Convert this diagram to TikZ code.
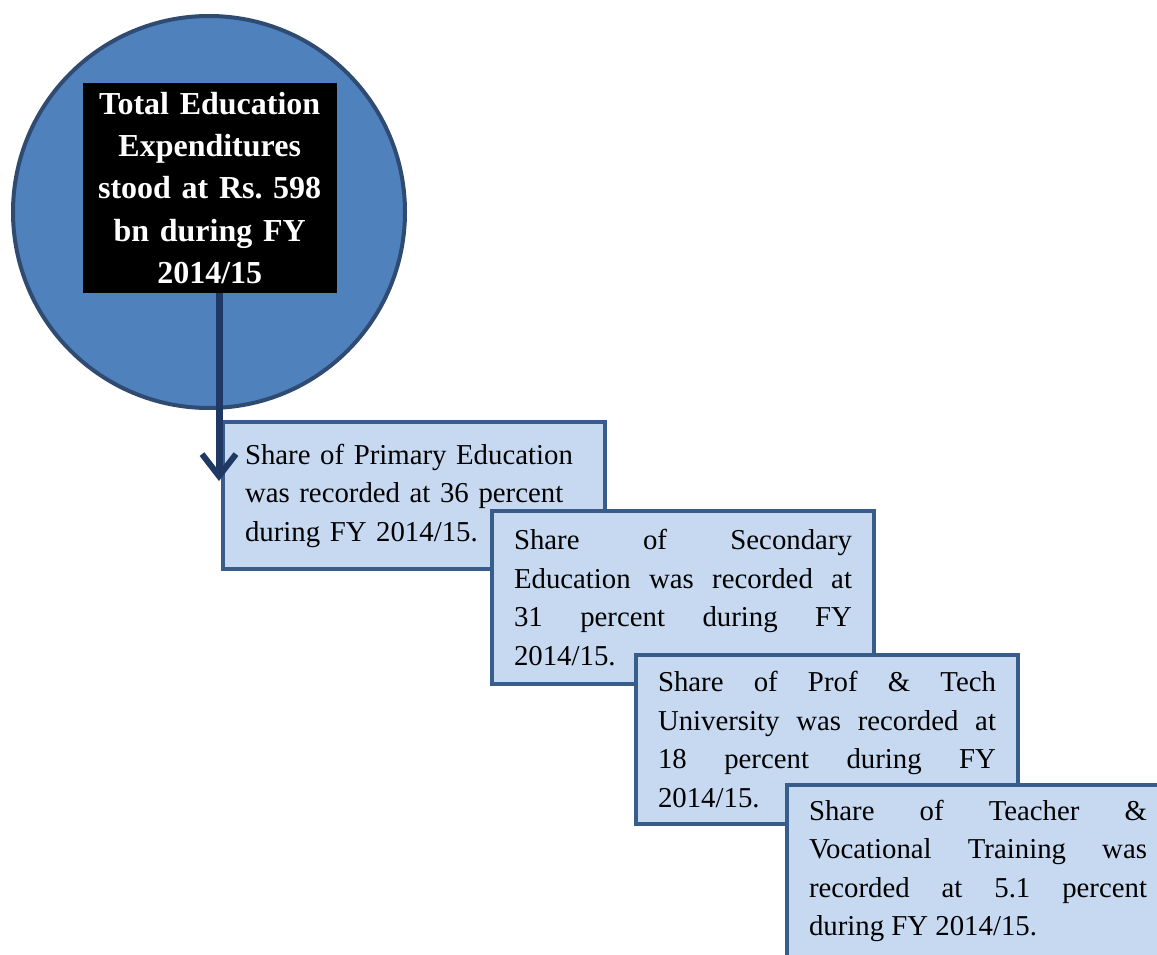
\documentclass[tikz,border=0pt]{standalone}
\usepackage{fontspec}
\setmainfont{Liberation Serif}
\usetikzlibrary{arrows.meta}
\definecolor{hubfill}{HTML}{4F81BD}
\definecolor{hubline}{HTML}{2F4B72}
\definecolor{sharefill}{HTML}{C6D9F1}
\definecolor{shareline}{HTML}{385D8A}
\definecolor{flowline}{HTML}{1F3864}
\hbadness=10000
\frenchspacing
\tikzset{
  hub/.style={circle, draw=hubline, line width=4pt, fill=hubfill, minimum size=392pt, inner sep=0pt},
  total/.style={fill=black, text=white, minimum width=254pt, minimum height=210pt, inner sep=0pt,
    text width=250pt, align=center, font=\fontsize{32}{42.3}\selectfont\bfseries},
  share/.style={draw=shareline, line width=4pt, fill=sharefill, anchor=north west,
    text width=338pt, inner xsep=22pt, inner ysep=0pt, align=justify,
    font=\fontsize{28.8}{38.5}\selectfont},
  flow/.style={draw=flowline, line width=7pt,
    -{Straight Barb[length=22pt,width=34pt,line width=6pt]}}
}
\begin{document}
\begin{tikzpicture}[x=1pt,y=-1pt]
  \useasboundingbox (0,0) rectangle (1157,955);
  \node[hub] (hub) at (209,212) {};
  \node[total] (total) at (209.7,188) {Total Education\\ Expenditures\\ stood at Rs. 598\\ bn during FY\\ 2014/15};
  \node[share, align=left, minimum height=147pt] (primary) at (221,420)
    {Share of Primary Education\\ was recorded at 36 percent\\ during FY 2014/15.};
  \coordinate (tip) at (219,481);
  \draw[flow] (total.south -| tip) -- (tip);
  \node[share, minimum height=173pt] (secondary) at (490,509)
    {Share of Secondary\linebreak Education was recorded at\linebreak 31 percent during FY\linebreak 2014/15.};
  \node[share, minimum height=169pt] (proftech) at (634,653)
    {Share of Prof \& Tech\linebreak University was recorded at\linebreak 18 percent during FY\linebreak 2014/15.};
  \node[share, minimum height=172pt] (teacher) at (785,783)
    {Share of Teacher \&\linebreak Vocational Training was\linebreak recorded at 5.1 percent\linebreak during FY 2014/15.};
\end{tikzpicture}
\end{document}
